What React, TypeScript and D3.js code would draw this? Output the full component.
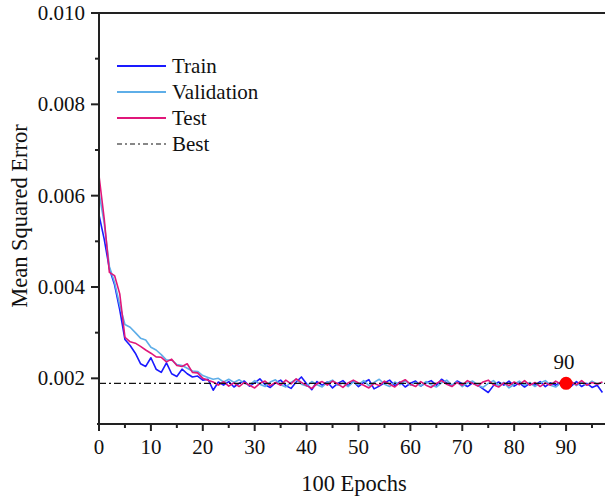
import React from "react";
import * as d3 from "d3";

const epochs: number[] = Array.from({ length: 98 }, (_, i) => i);

const trainMSE: number[] = [
  0.00558, 0.00505, 0.0044, 0.00405, 0.0035, 0.00285, 0.00272, 0.00255, 0.00232, 0.00226,
  0.00245, 0.0022, 0.00213, 0.00234, 0.0021, 0.00204, 0.0022, 0.0021, 0.00203, 0.00205,
  0.00196, 0.00198, 0.00174, 0.00192, 0.00185, 0.00193, 0.00181, 0.00189, 0.00194, 0.00183,
  0.0019, 0.00199, 0.00186, 0.0018, 0.0019, 0.00196, 0.00184, 0.00178, 0.00192, 0.00203,
  0.00188, 0.00175, 0.00193, 0.00185, 0.00192, 0.00179, 0.00189, 0.00195, 0.00184, 0.00193,
  0.00182, 0.00191, 0.00197, 0.00177, 0.00183, 0.0019, 0.00196, 0.00184, 0.00192, 0.00181,
  0.00189, 0.00194, 0.00183, 0.0019, 0.00195, 0.00185, 0.00198, 0.0019, 0.00184, 0.00194,
  0.00188, 0.00182, 0.0019, 0.00185, 0.00177, 0.00169, 0.00184, 0.00192, 0.00185, 0.00194,
  0.00183, 0.0019, 0.00181, 0.00189, 0.00185, 0.00193, 0.00182, 0.0019, 0.00185, 0.00192,
  0.00188, 0.00183, 0.00193, 0.00182, 0.00189, 0.0018, 0.00185, 0.00169,
];

const validationMSE: number[] = [
  0.00607, 0.0054, 0.00445, 0.0041, 0.0036, 0.00318, 0.00312, 0.003, 0.00288, 0.00284,
  0.00268, 0.00262, 0.00252, 0.0024, 0.0024, 0.0023, 0.00228, 0.00222, 0.00216, 0.00215,
  0.00206, 0.00202, 0.00198, 0.002, 0.00192, 0.00198, 0.00191, 0.00197, 0.00189, 0.00185,
  0.00195, 0.00187, 0.00182, 0.00192, 0.00197, 0.00186, 0.00181, 0.00191, 0.00198, 0.00187,
  0.00183, 0.00193, 0.00186, 0.00181, 0.00191, 0.00196, 0.00185, 0.0019, 0.00182, 0.00192,
  0.00186, 0.00195, 0.00184, 0.00191, 0.00198, 0.00187, 0.00182, 0.00192, 0.00186, 0.00195,
  0.00185, 0.00191, 0.00183, 0.00193, 0.00186, 0.00181, 0.0019, 0.00196, 0.00185, 0.00192,
  0.00182, 0.0019, 0.00194, 0.00185, 0.0018, 0.00189, 0.00195, 0.00184, 0.00191, 0.00179,
  0.00187, 0.00194, 0.00185, 0.00191, 0.00182, 0.0019, 0.00195, 0.00185, 0.00181, 0.0019,
  0.00185, 0.00193, 0.00184, 0.00191, 0.00185, 0.00194, 0.00187, 0.00191,
];

const testMSE: number[] = [
  0.00644, 0.0055, 0.00432, 0.00425, 0.00385, 0.0029, 0.0028, 0.00277, 0.0027, 0.00262,
  0.00255, 0.00247, 0.00246, 0.00236, 0.00242, 0.00228, 0.00226, 0.00232, 0.00213, 0.00212,
  0.002, 0.00196, 0.00192, 0.00185, 0.00193, 0.00183, 0.0019, 0.00182, 0.00191, 0.00185,
  0.00179, 0.00189, 0.00194, 0.00184, 0.00191, 0.00185, 0.00196, 0.00188, 0.00199, 0.00191,
  0.00184, 0.00178, 0.00188, 0.00193, 0.00185, 0.00194, 0.00188, 0.0018, 0.0019, 0.00196,
  0.0019, 0.00185, 0.00179, 0.00189, 0.00184, 0.00194, 0.00187, 0.00181, 0.00191, 0.00197,
  0.00187, 0.00182, 0.00193, 0.00185, 0.0018, 0.00189, 0.00195, 0.00187, 0.00182, 0.00191,
  0.00185, 0.00195, 0.00189, 0.00183, 0.00192, 0.00196, 0.00186, 0.00181, 0.0019, 0.00184,
  0.00192, 0.00186, 0.00195, 0.00185, 0.00191, 0.00182, 0.0019, 0.00185, 0.00194, 0.00187,
  0.00184, 0.00192, 0.00186, 0.00195, 0.00185, 0.00191, 0.00187, 0.00192,
];

const bestMSE = 0.00189;
const bestEpoch = 90;

const xMajorTicks: number[] = [0, 10, 20, 30, 40, 50, 60, 70, 80, 90];
const xMinorTicks: number[] = [5, 15, 25, 35, 45, 55, 65, 75, 85, 95];
const yMajorTicks: number[] = [0.002, 0.004, 0.006, 0.008, 0.01];
const yMinorTicks: number[] = [0.003, 0.005, 0.007, 0.009];

const seriesNames: string[] = ["Train", "Validation", "Test"];
const seriesColors: string[] = ["#1a1aff", "#5eaee8", "#e0177a"];

const FONT = "Liberation Serif, Times New Roman, Tinos, DejaVu Serif, serif";

export default function App() {
  const W = 605;
  const H = 499;
  const left = 99;
  const top = 13;
  const bottom = 424;
  const x = d3.scaleLinear().domain([0, 97.5]).range([left, W]);
  const y = d3.scaleLinear().domain([0.001, 0.01]).range([bottom, top]);

  const line = d3
    .line<number>()
    .x((_, i) => x(epochs[i]))
    .y((d) => y(d));

  const allSeries = [trainMSE, validationMSE, testMSE];
  const axisColor = "#222";
  const textStyle = { fontFamily: FONT };

  return (
    <svg width={W} height={H} style={{ position: "absolute", left: 0, top: 0, background: "#fff" }}>
      <defs>
        <clipPath id="plot">
          <rect x={left} y={top} width={W - left} height={bottom - top} />
        </clipPath>
      </defs>
      <g clipPath="url(#plot)">
        {allSeries.map((s, i) => (
          <path
            key={seriesNames[i]}
            d={line(s) || ""}
            fill="none"
            stroke={seriesColors[i]}
            strokeWidth={1.6}
            strokeLinejoin="round"
          />
        ))}
        <line
          x1={left}
          x2={W}
          y1={y(bestMSE)}
          y2={y(bestMSE)}
          stroke="#111"
          strokeWidth={1.2}
          strokeDasharray="7,3,2,3"
        />
      </g>
      <circle cx={x(bestEpoch)} cy={y(bestMSE)} r={6.5} fill="#ff0000" />
      <text
        x={x(bestEpoch) - 2}
        y={y(bestMSE) - 14}
        style={textStyle}
        fontSize={21}
        textAnchor="middle"
        fill="#111"
      >
        {bestEpoch}
      </text>

      <line x1={left} x2={left} y1={top} y2={bottom + 1} stroke={axisColor} strokeWidth={2} />
      <line x1={left - 2} x2={W} y1={bottom} y2={bottom} stroke={axisColor} strokeWidth={2} />
      <line x1={left - 8} x2={W} y1={top} y2={top} stroke={axisColor} strokeWidth={2} />

      {yMajorTicks.map((t) => (
        <g key={"ym" + t}>
          <line x1={left - 8} x2={left} y1={y(t)} y2={y(t)} stroke={axisColor} strokeWidth={2} />
          <text x={85} y={y(t) + 7} style={textStyle} fontSize={21} textAnchor="end" fill="#111">
            {d3.format(".3f")(t)}
          </text>
        </g>
      ))}
      {yMinorTicks.map((t) => (
        <line key={"yn" + t} x1={left - 4} x2={left} y1={y(t)} y2={y(t)} stroke={axisColor} strokeWidth={2} />
      ))}
      {xMajorTicks.map((t) => (
        <g key={"xm" + t}>
          <line x1={x(t)} x2={x(t)} y1={bottom} y2={bottom + 7} stroke={axisColor} strokeWidth={2} />
          <text x={x(t)} y={454} style={textStyle} fontSize={21} textAnchor="middle" fill="#111">
            {t}
          </text>
        </g>
      ))}
      {xMinorTicks.map((t) => (
        <line key={"xn" + t} x1={x(t)} x2={x(t)} y1={bottom} y2={bottom + 4} stroke={axisColor} strokeWidth={2} />
      ))}

      <text x={354} y={491} style={textStyle} fontSize={22.5} textAnchor="middle" fill="#111">
        100 Epochs
      </text>
      <text
        transform={`translate(27,216) rotate(-90)`}
        style={textStyle}
        fontSize={22.5}
        textAnchor="middle"
        fill="#111"
      >
        Mean Squared Error
      </text>

      {seriesNames.map((n, i) => (
        <g key={"lg" + n}>
          <line
            x1={117}
            x2={166}
            y1={66 + i * 26}
            y2={66 + i * 26}
            stroke={seriesColors[i]}
            strokeWidth={1.8}
          />
          <text x={172} y={73 + i * 26} style={textStyle} fontSize={21} fill="#111">
            {n}
          </text>
        </g>
      ))}
      <line
        x1={117}
        x2={166}
        y1={66 + 3 * 26}
        y2={66 + 3 * 26}
        stroke="#111"
        strokeWidth={1.2}
        strokeDasharray="5,3,2,3"
      />
      <text x={172} y={73 + 3 * 26} style={textStyle} fontSize={21} fill="#111">
        Best
      </text>
    </svg>
  );
}
